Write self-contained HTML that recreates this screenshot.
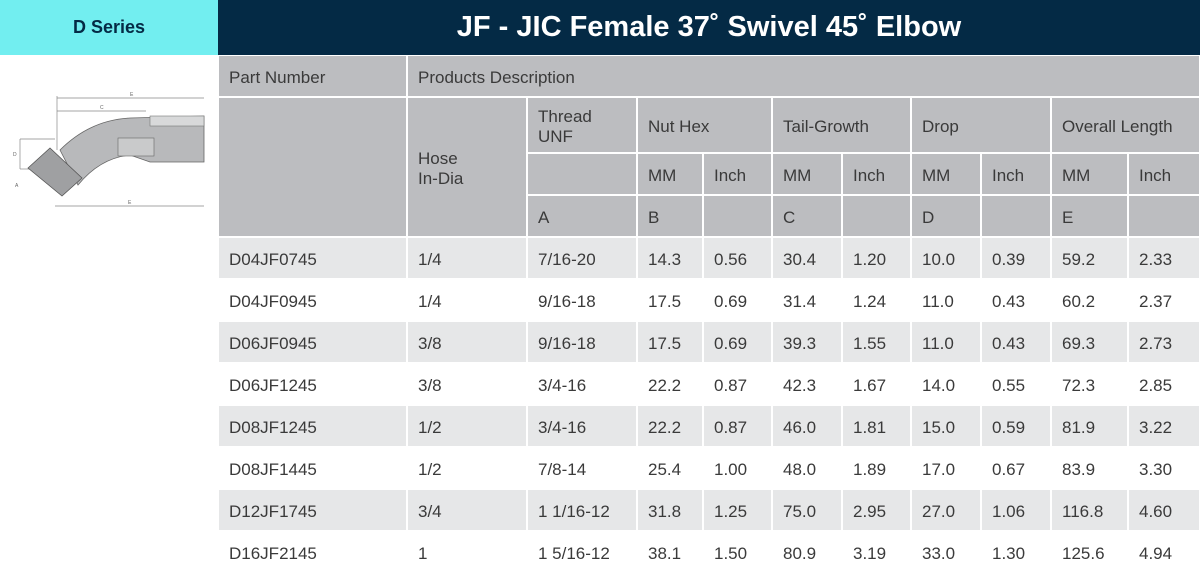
<!DOCTYPE html>
<html><head><meta charset="utf-8"><style>
body{margin:0;width:1200px;height:575px;overflow:hidden;background:#fff;font-family:"Liberation Sans",sans-serif;position:relative}
.c{position:absolute;box-sizing:border-box;color:#3a3a3a;font-size:17px;padding-left:10px;padding-top:3px;display:flex;align-items:center;white-space:nowrap;font-weight:300;letter-spacing:0}
.h{background:#bcbdc0}
.g{background:#e6e7e8}
.w{background:#fff}
</style></head><body>
<div style="position:absolute;left:0;top:0;width:218px;height:55px;background:#72eef0;display:flex;align-items:center;justify-content:center;font-weight:bold;font-size:18px;color:#042a45">D Series</div>
<div style="position:absolute;left:218px;top:0;width:982px;height:55px;background:#042a45;display:flex;align-items:center;justify-content:center;font-weight:bold;font-size:29px;color:#fff">JF - JIC Female 37˚ Swivel 45˚ Elbow</div>
<svg style="position:absolute;left:0;top:80px" width="215" height="140">
<g stroke="#888" stroke-width="0.7" fill="none">
<line x1="57" y1="18" x2="204" y2="18"/><line x1="57" y1="31" x2="146" y2="31"/>
<line x1="55" y1="126" x2="204" y2="126"/><line x1="20" y1="59" x2="55" y2="59"/>
<line x1="20" y1="89" x2="30" y2="89"/><line x1="20" y1="59" x2="20" y2="89"/>
<line x1="57" y1="16" x2="57" y2="70"/>
</g>
<path d="M60 70 Q90 40 130 38 L204 36 L204 82 L150 82 L130 75 Q100 78 78 105 Z" fill="#b8b9bb" stroke="#666" stroke-width="0.8"/>
<rect x="150" y="36" width="54" height="10" fill="#d8d9da" stroke="#777" stroke-width="0.6"/>
<rect x="118" y="58" width="36" height="18" fill="#c9cacb" stroke="#666" stroke-width="0.6"/>
<path d="M28 88 L50 68 L82 98 L62 116 Z" fill="#9fa0a2" stroke="#555" stroke-width="0.8"/>
<text x="130" y="16" font-size="5" fill="#666">E</text><text x="100" y="29" font-size="5" fill="#666">C</text>
<text x="128" y="124" font-size="5" fill="#666">E</text><text x="13" y="76" font-size="5" fill="#666">D</text><text x="15" y="107" font-size="5" fill="#666">A</text>
</svg>
<div id="t"></div>
<script>
var X=[218,407,527,637,703,772,842,911,981,1051,1128,1200];
var out='';
function cell(x1,x2,y1,y2,cls,txt){out+='<div class="c '+cls+'" style="left:'+(x1+1)+'px;top:'+(y1+1)+'px;width:'+(x2-x1-2)+'px;height:'+(y2-y1-2)+'px">'+(txt||'')+'</div>';}
cell(218,407,55,97,'h','Part Number');cell(407,1200,55,97,'h','Products Description');
cell(218,407,97,237,'h','');cell(407,527,97,237,'h','Hose<br>In-Dia');
cell(527,637,97,153,'h','Thread<br>UNF');cell(527,637,153,195,'h','');cell(527,637,195,237,'h','A');
var hd=['Nut Hex','Tail-Growth','Drop','Overall Length'],lt=['B','C','D','E'];
for(var i=0;i<4;i++){var a=X[3+2*i],b=X[4+2*i],c=X[5+2*i];
cell(a,c,97,153,'h',hd[i]);cell(a,b,153,195,'h','MM');cell(b,c,153,195,'h','Inch');cell(a,b,195,237,'h',lt[i]);cell(b,c,195,237,'h','');}
var D=[["D04JF0745","1/4","7/16-20","14.3","0.56","30.4","1.20","10.0","0.39","59.2","2.33"],
["D04JF0945","1/4","9/16-18","17.5","0.69","31.4","1.24","11.0","0.43","60.2","2.37"],
["D06JF0945","3/8","9/16-18","17.5","0.69","39.3","1.55","11.0","0.43","69.3","2.73"],
["D06JF1245","3/8","3/4-16","22.2","0.87","42.3","1.67","14.0","0.55","72.3","2.85"],
["D08JF1245","1/2","3/4-16","22.2","0.87","46.0","1.81","15.0","0.59","81.9","3.22"],
["D08JF1445","1/2","7/8-14","25.4","1.00","48.0","1.89","17.0","0.67","83.9","3.30"],
["D12JF1745","3/4","1 1/16-12","31.8","1.25","75.0","2.95","27.0","1.06","116.8","4.60"],
["D16JF2145","1","1 5/16-12","38.1","1.50","80.9","3.19","33.0","1.30","125.6","4.94"]];
for(var r=0;r<8;r++){var y=237+42*r;for(var k=0;k<11;k++)cell(X[k],X[k+1],y,y+42,r%2?'w':'g',D[r][k]);}
document.getElementById('t').innerHTML=out;
</script>
</body></html>
